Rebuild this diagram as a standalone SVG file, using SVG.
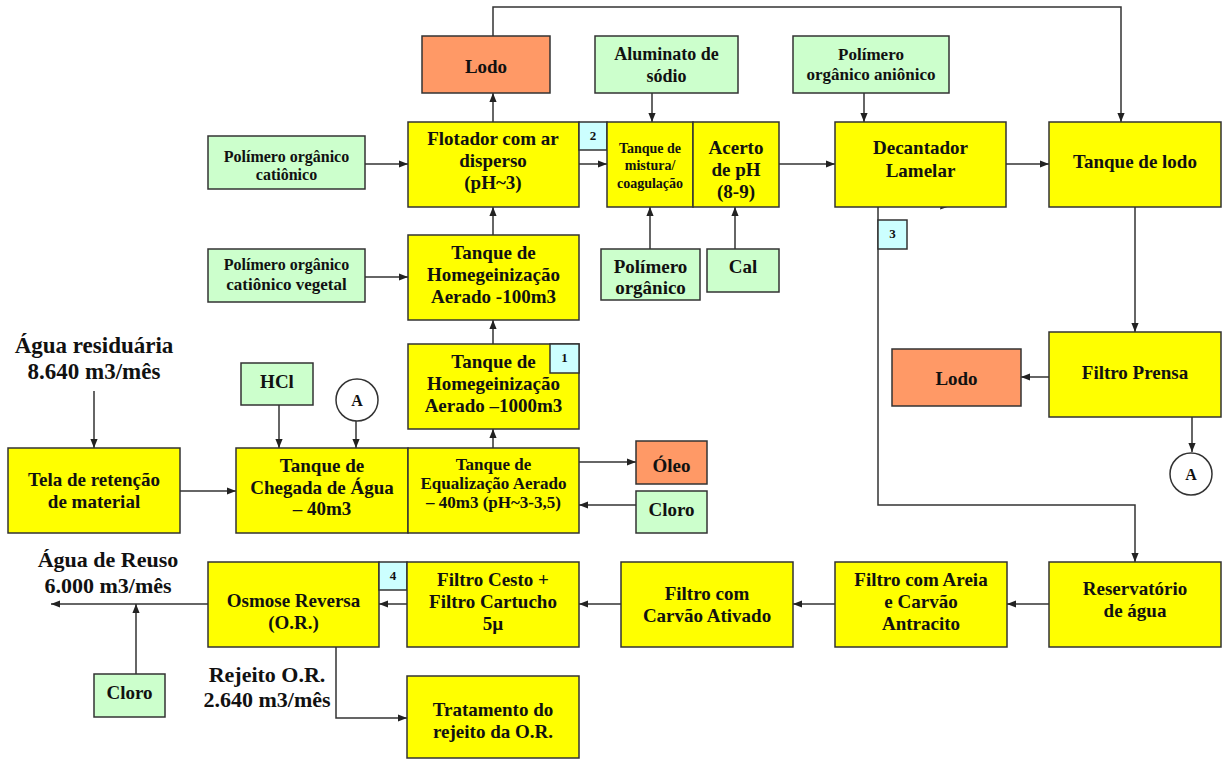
<svg xmlns="http://www.w3.org/2000/svg" width="1226" height="760" viewBox="0 0 1226 760">
  <style>
    text { font-family: "Liberation Serif", "Times New Roman", serif; font-weight: bold; fill: #111; text-anchor: middle; }
    .proc { fill: #ffff00; stroke: #333; stroke-width: 1.5; }
    .chem { fill: #ccffcc; stroke: #333; stroke-width: 1.5; }
    .waste { fill: #ff9966; stroke: #333; stroke-width: 1.5; }
    .tag { fill: #ccffff; stroke: #333; stroke-width: 1.5; }
    .ref { fill: #fff; stroke: #333; stroke-width: 1.5; }
    .f18 { font-size: 19px; }
    .f17 { font-size: 18px; }
    .f16 { font-size: 16px; }
    .f15 { font-size: 17px; }
    .f14 { font-size: 14px; }
    .f12 { font-size: 13px; }
    .f20 { font-size: 22px; }
    .f21 { font-size: 23px; }
    .conn path { fill: none; stroke: #333; stroke-width: 1.5; marker-end: url(#ah); }
  </style>
  <defs>
    <marker id="ah" viewBox="0 0 10 10" refX="10" refY="5" markerWidth="9" markerHeight="9" orient="auto" markerUnits="userSpaceOnUse">
      <path d="M0,1 L10,5 L0,9 z" fill="#222"/>
    </marker>
  </defs>

  <rect width="1226" height="760" fill="#fff"/>

  <!-- connectors -->
  <g id="connectors" class="conn">
    <path d="M493,122 V93"/>
    <path d="M493,36 V7 H1121 V122"/>
    <path d="M365,164 H408"/>
    <path d="M579,164 H607"/>
    <path d="M652,93 V122"/>
    <path d="M650,249 V207"/>
    <path d="M735,249 V207"/>
    <path d="M779,164 H835"/>
    <path d="M864,93 V122"/>
    <path d="M1006,164 H1049"/>
    <path d="M1135,207 V332"/>
    <path d="M1049,377 H1021"/>
    <path d="M1192,417 V452"/>
    <path d="M878,207 V505 H1135 V562"/>
    <path d="M1049,604 H1007"/>
    <path d="M835,604 H793"/>
    <path d="M621,604 H579"/>
    <path d="M407,604 H379"/>
    <path d="M208,604 H51"/>
    <path d="M136,674 V604"/>
    <path d="M336,647 V718 H407"/>
    <path d="M493,235 V207"/>
    <path d="M365,277 H408"/>
    <path d="M493,344 V320"/>
    <path d="M493,448 V429"/>
    <path d="M579,462 H636"/>
    <path d="M636,505 H579"/>
    <path d="M279,405 V448"/>
    <path d="M356,421 V448"/>
    <path d="M180,491 H236"/>
    <path d="M94,391 V448"/>
    <polygon points="940,209.5 949,206.5 941,205" fill="#222" stroke="none"/>
  </g>

  <!-- top row -->
  <g id="lodo-flotador">
    <rect class="waste" x="422" y="36" width="128" height="57"/>
    <text class="f18" x="486" y="73">Lodo</text>
  </g>
  <g id="aluminato">
    <rect class="chem" x="595" y="36" width="143" height="57"/>
    <text class="f17" x="666.5" y="60">Aluminato de</text>
    <text class="f17" x="666.5" y="82">sódio</text>
  </g>
  <g id="polimero-anionico">
    <rect class="chem" x="793" y="36" width="156" height="57"/>
    <text class="f15" x="871" y="60">Polímero</text>
    <text class="f15" x="871" y="80">orgânico aniônico</text>
  </g>

  <g id="polimero-cationico">
    <rect class="chem" x="208" y="136" width="157" height="53"/>
    <text class="f16" x="286.5" y="162">Polímero orgânico</text>
    <text class="f16" x="286.5" y="180">catiônico</text>
  </g>
  <g id="flotador">
    <rect class="proc" x="408" y="122" width="171" height="85"/>
    <text class="f18" x="493" y="145">Flotador com ar</text>
    <text class="f18" x="493" y="167">disperso</text>
    <text class="f18" x="493" y="189">(pH~3)</text>
  </g>
  <g id="tag-2">
    <rect class="tag" x="579" y="122" width="28" height="28"/>
    <text class="f12" x="593" y="140">2</text>
  </g>
  <g id="tanque-mistura">
    <rect class="proc" x="607" y="122" width="86" height="85"/>
    <text class="f14" x="650" y="153">Tanque de</text>
    <text class="f14" x="650" y="170">mistura/</text>
    <text class="f14" x="650" y="188">coagulação</text>
  </g>
  <g id="acerto-ph">
    <rect class="proc" x="693" y="122" width="86" height="85"/>
    <text class="f18" x="736" y="154">Acerto</text>
    <text class="f18" x="736" y="176">de pH</text>
    <text class="f18" x="736" y="198">(8-9)</text>
  </g>
  <g id="decantador">
    <rect class="proc" x="835" y="122" width="171" height="85"/>
    <text class="f18" x="920.5" y="154">Decantador</text>
    <text class="f18" x="920.5" y="177">Lamelar</text>
  </g>
  <g id="tanque-lodo">
    <rect class="proc" x="1049" y="122" width="172" height="85"/>
    <text class="f18" x="1135" y="168">Tanque de lodo</text>
  </g>
  <g id="tag-3">
    <rect class="tag" x="878" y="220" width="29" height="29"/>
    <text class="f12" x="892.5" y="238">3</text>
  </g>

  <!-- second row -->
  <g id="polimero-vegetal">
    <rect class="chem" x="208" y="249" width="157" height="53"/>
    <text class="f16" x="286.5" y="270">Polímero orgânico</text>
    <text class="f15" x="286.5" y="290">catiônico vegetal</text>
  </g>
  <g id="homog-100">
    <rect class="proc" x="408" y="235" width="171" height="85"/>
    <text class="f18" x="493.5" y="259">Tanque de</text>
    <text class="f18" x="493.5" y="281">Homegeinização</text>
    <text class="f18" x="493.5" y="303">Aerado -100m3</text>
  </g>
  <g id="polimero-organico">
    <rect class="chem" x="601" y="249" width="99" height="51"/>
    <text class="f18" x="650.5" y="273">Polímero</text>
    <text class="f18" x="650.5" y="294">orgânico</text>
  </g>
  <g id="cal">
    <rect class="chem" x="707" y="249" width="72" height="43"/>
    <text class="f18" x="743" y="273">Cal</text>
  </g>

  <!-- third row -->
  <g id="homog-1000">
    <rect class="proc" x="408" y="344" width="171" height="85"/>
    <text class="f18" x="493.5" y="368">Tanque de</text>
    <text class="f18" x="493.5" y="390">Homegeinização</text>
    <text class="f18" x="493.5" y="412">Aerado –1000m3</text>
  </g>
  <g id="tag-1">
    <rect class="tag" x="550" y="344" width="29" height="29"/>
    <text class="f12" x="564.5" y="362">1</text>
  </g>
  <g id="filtro-prensa">
    <rect class="proc" x="1049" y="332" width="172" height="85"/>
    <text class="f18" x="1135" y="379">Filtro Prensa</text>
  </g>
  <g id="lodo-prensa">
    <rect class="waste" x="892" y="349" width="129" height="57"/>
    <text class="f18" x="956.5" y="385">Lodo</text>
  </g>
  <g id="ref-a-out">
    <circle class="ref" cx="1191" cy="474" r="21"/>
    <text class="f16" x="1191" y="480">A</text>
  </g>

  <!-- inlet row -->
  <g id="agua-residuaria">
    <text class="f21" x="94" y="353">Água residuária</text>
    <text class="f21" x="94" y="379">8.640 m3/mês</text>
  </g>
  <g id="hcl">
    <rect class="chem" x="241" y="363" width="72" height="42"/>
    <text class="f18" x="277" y="388">HCl</text>
  </g>
  <g id="ref-a-in">
    <circle class="ref" cx="357" cy="400" r="21"/>
    <text class="f16" x="357" y="406">A</text>
  </g>
  <g id="tela">
    <rect class="proc" x="8" y="448" width="172" height="85"/>
    <text class="f18" x="94" y="486">Tela de retenção</text>
    <text class="f18" x="94" y="508">de material</text>
  </g>
  <g id="chegada">
    <rect class="proc" x="236" y="448" width="172" height="85"/>
    <text class="f18" x="322" y="472">Tanque de</text>
    <text class="f18" x="322" y="494">Chegada de Água</text>
    <text class="f18" x="322" y="515">– 40m3</text>
  </g>
  <g id="equalizacao">
    <rect class="proc" x="408" y="448" width="171" height="85"/>
    <text class="f15" x="493.5" y="470">Tanque de</text>
    <text class="f15" x="493.5" y="489">Equalização Aerado</text>
    <text class="f15" x="493.5" y="508">– 40m3 (pH~3-3,5)</text>
  </g>
  <g id="oleo">
    <rect class="waste" x="636" y="441" width="71" height="43"/>
    <text class="f18" x="671.5" y="472">Óleo</text>
  </g>
  <g id="cloro-eq">
    <rect class="chem" x="636" y="491" width="71" height="42"/>
    <text class="f18" x="671.5" y="516">Cloro</text>
  </g>

  <!-- reuse line -->
  <g id="agua-reuso">
    <text class="f20" x="108" y="567">Água de Reuso</text>
    <text class="f20" x="108" y="593">6.000 m3/mês</text>
  </g>
  <g id="osmose">
    <rect class="proc" x="208" y="562" width="171" height="85"/>
    <text class="f18" x="293.5" y="607">Osmose Reversa</text>
    <text class="f18" x="293.5" y="629">(O.R.)</text>
  </g>
  <g id="tag-4">
    <rect class="tag" x="379" y="562" width="28" height="28"/>
    <text class="f12" x="393" y="580">4</text>
  </g>
  <g id="filtro-cesto">
    <rect class="proc" x="407" y="562" width="172" height="85"/>
    <text class="f18" x="493" y="586">Filtro Cesto +</text>
    <text class="f18" x="493" y="608">Filtro Cartucho</text>
    <text class="f18" x="493" y="630">5µ</text>
  </g>
  <g id="filtro-carvao">
    <rect class="proc" x="621" y="562" width="172" height="85"/>
    <text class="f18" x="707" y="600">Filtro com</text>
    <text class="f18" x="707" y="622">Carvão Ativado</text>
  </g>
  <g id="filtro-areia">
    <rect class="proc" x="835" y="562" width="172" height="85"/>
    <text class="f18" x="921" y="586">Filtro com Areia</text>
    <text class="f18" x="921" y="608">e Carvão</text>
    <text class="f18" x="921" y="630">Antracito</text>
  </g>
  <g id="reservatorio">
    <rect class="proc" x="1049" y="562" width="172" height="85"/>
    <text class="f18" x="1135" y="595">Reservatório</text>
    <text class="f18" x="1135" y="617">de água</text>
  </g>

  <!-- bottom row -->
  <g id="cloro-reuso">
    <rect class="chem" x="94" y="674" width="71" height="43"/>
    <text class="f18" x="129.5" y="699">Cloro</text>
  </g>
  <g id="rejeito">
    <text class="f20" x="267" y="682">Rejeito O.R.</text>
    <text class="f20" x="267" y="707">2.640 m3/mês</text>
  </g>
  <g id="tratamento">
    <rect class="proc" x="407" y="676" width="172" height="82"/>
    <text class="f18" x="493" y="716">Tratamento do</text>
    <text class="f18" x="493" y="738">rejeito da O.R.</text>
  </g>
</svg>
